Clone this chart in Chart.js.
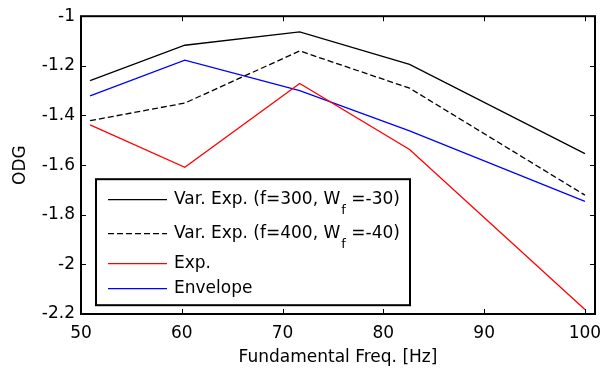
<!DOCTYPE html>
<html>
<head>
<meta charset="utf-8">
<script src="https://cdn.jsdelivr.net/npm/chart.js@4.4.1/dist/chart.umd.min.js"></script>
<style>
  html, body { margin: 0; background: #fff; }
  canvas { display: block; }
</style>
</head>
<body>
<canvas id="odgChart" width="613" height="368"></canvas>
<script>
// ---------------------------------------------------------------------------
// Data
// ---------------------------------------------------------------------------

const FREQS       = [50.9, 60.3, 71.7, 82.6, 100];
const VAR_EXP_300 = [-1.260, -1.117, -1.063, -1.194, -1.554];
const VAR_EXP_400 = [-1.421, -1.350, -1.140, -1.290, -1.721];
const EXP_VALUES  = [-1.438, -1.609, -1.271, -1.537, -2.182];
const ENVELOPE    = [-1.321, -1.177, -1.300, -1.462, -1.746];

const X_TICKS = [50, 60, 70, 80, 90, 100];
const Y_TICKS = [-2.2, -2, -1.8, -1.6, -1.4, -1.2, -1];

// legend texts: main part, subscript, tail
const LEGEND_TEXT = [
  ['Var. Exp. (f=300, W', 'f', ' =-30)'],
  ['Var. Exp. (f=400, W', 'f', ' =-40)'],
  ['Exp.', '', ''],
  ['Envelope', '', ''],
];

const FONT = '"DejaVu Sans", "Liberation Sans", Arial, sans-serif';
const FONT_SIZE = 17;

const toPoints = ys => FREQS.map((x, i) => ({ x, y: ys[i] }));

// ---------------------------------------------------------------------------
// Frame, inward ticks and boxed legend (MATLAB look)
// ---------------------------------------------------------------------------

const matlabFramePlugin = {
  id: 'matlabFrame',
  afterDraw(chart) {
    const { ctx, chartArea: a, scales } = chart;
    const tick = 5;
    ctx.save();
    ctx.strokeStyle = '#000';
    ctx.lineWidth = 1;
    ctx.beginPath();
    X_TICKS.forEach(v => {
      const px = Math.round(scales.x.getPixelForValue(v)) + 0.5;
      ctx.moveTo(px, a.bottom); ctx.lineTo(px, a.bottom - tick);
      ctx.moveTo(px, a.top);    ctx.lineTo(px, a.top + tick);
    });
    Y_TICKS.forEach(v => {
      const py = Math.round(scales.y.getPixelForValue(v)) + 0.5;
      ctx.moveTo(a.left, py);  ctx.lineTo(a.left + tick, py);
      ctx.moveTo(a.right, py); ctx.lineTo(a.right - tick, py);
    });
    ctx.stroke();

    ctx.lineWidth = 2;
    ctx.strokeRect(a.left, a.top, a.right - a.left, a.bottom - a.top);

    // legend box
    const lx = a.left + 15, ly = a.top + 163, lw = 314, lh = 126;
    ctx.fillStyle = '#fff';
    ctx.fillRect(lx, ly, lw, lh);
    ctx.strokeRect(lx, ly, lw, lh);

    const rows = [ly + 20, ly + 54, ly + 84, ly + 109];
    chart.data.datasets.forEach((ds, i) => {
      const y = rows[i];
      ctx.strokeStyle = ds.borderColor;
      ctx.lineWidth = 1.3;
      ctx.setLineDash(ds.borderDash || []);
      ctx.beginPath();
      ctx.moveTo(lx + 12, y + 0.5);
      ctx.lineTo(lx + 71, y + 0.5);
      ctx.stroke();
      ctx.setLineDash([]);

      const [main, sub, tail] = LEGEND_TEXT[i];
      ctx.fillStyle = '#000';
      ctx.textBaseline = 'middle';
      ctx.textAlign = 'left';
      ctx.font = FONT_SIZE + 'px ' + FONT;
      let tx = lx + 78;
      ctx.fillText(main, tx, y);
      tx += ctx.measureText(main).width;
      if (sub) {
        ctx.font = '13px ' + FONT;
        ctx.fillText(sub, tx + 1, y + 11);
        tx += ctx.measureText(sub).width + 1;
        ctx.font = FONT_SIZE + 'px ' + FONT;
        ctx.fillText(tail, tx, y);
      }
    });
    ctx.restore();
  },
};

// ---------------------------------------------------------------------------
// Chart
// ---------------------------------------------------------------------------

const lineStyle = (color, dash) => ({
  borderColor: color,
  borderWidth: 1.3,
  borderDash: dash,
  pointRadius: 0,
  fill: false,
  tension: 0,
});

new Chart(document.getElementById('odgChart'), {
  type: 'line',
  data: {
    datasets: [
      { label: 'Var. Exp. (f=300, Wf =-30)', data: toPoints(VAR_EXP_300), ...lineStyle('#000', []) },
      { label: 'Var. Exp. (f=400, Wf =-40)', data: toPoints(VAR_EXP_400), ...lineStyle('#000', [6, 3]) },
      { label: 'Exp.',                       data: toPoints(EXP_VALUES),  ...lineStyle('#ff0000', []) },
      { label: 'Envelope',                   data: toPoints(ENVELOPE),    ...lineStyle('#0000ff', []) },
    ],
  },
  plugins: [matlabFramePlugin],
  options: {
    responsive: false,
    animation: false,
    layout: { padding: { left: 0, right: 18, top: 15, bottom: 0 } },
    plugins: { legend: { display: false }, tooltip: { enabled: false } },
    scales: {
      x: {
        type: 'linear',
        min: 50,
        max: 101,
        afterBuildTicks: s => { s.ticks = X_TICKS.map(v => ({ value: v })); },
        afterFit: s => { s.height = 54; },
        ticks: { color: '#000', padding: 9, maxRotation: 0, font: { family: FONT, size: FONT_SIZE } },
        grid: { display: false, drawTicks: false },
        border: { display: false },
        title: { display: true, text: 'Fundamental Freq. [Hz]', color: '#000', padding: { top: 1, bottom: 0 }, font: { family: FONT, size: FONT_SIZE } },
      },
      y: {
        type: 'linear',
        min: -2.2,
        max: -1,
        afterBuildTicks: s => { s.ticks = Y_TICKS.map(v => ({ value: v })); },
        afterFit: s => { s.width = 81; },
        ticks: { color: '#000', padding: 6, callback: v => String(v), font: { family: FONT, size: FONT_SIZE } },
        grid: { display: false, drawTicks: false },
        border: { display: false },
        title: { display: true, text: 'ODG', color: '#000', padding: { top: 10, bottom: 0 }, font: { family: FONT, size: FONT_SIZE } },
      },
    },
  },
});
</script>
</body>
</html>
